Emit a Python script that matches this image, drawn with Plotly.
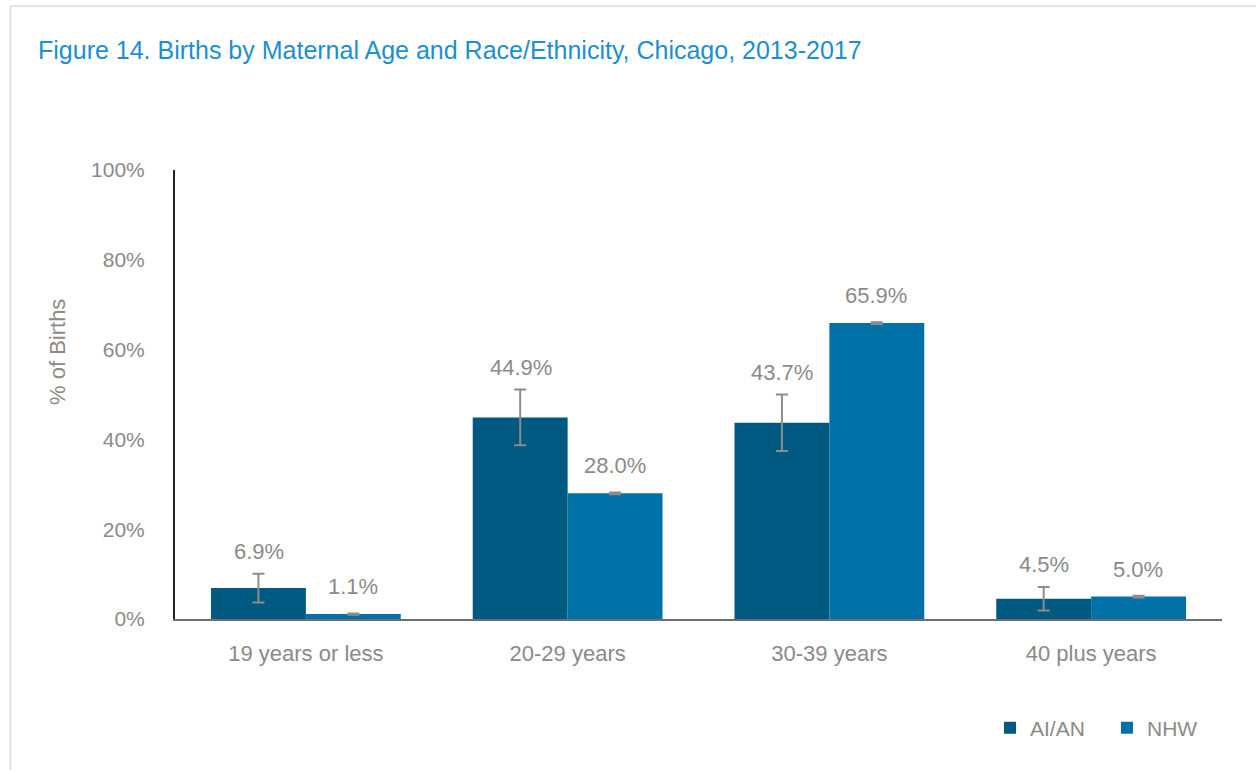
import plotly.graph_objects as go

categories = ["19 years or less", "20-29 years", "30-39 years", "40 plus years"]
aian = [6.9, 44.9, 43.7, 4.5]
aian_err = [3.2, 6.2, 6.3, 2.6]
nhw = [1.1, 28.0, 65.9, 5.0]
nhw_err = [0.15, 0.2, 0.2, 0.2]
y_ticks = [0, 20, 40, 60, 80, 100]

C_AIAN = "#005980"
C_NHW = "#0072a7"
GREY = "#8a8a8a"
FONT = "Liberation Sans"

W, H = 1256, 770
ML, MR, MT, MB = 175, 34, 170, 151
PW, PH = W - ML - MR, H - MT - MB


def px_x(x):
    return (x - ML) / PW


def px_y(y):
    return (H - MB - y) / PH


fig = go.Figure()
for name, vals, errs, col in [("AI/AN", aian, aian_err, C_AIAN), ("NHW", nhw, nhw_err, C_NHW)]:
    fig.add_trace(go.Bar(
        x=categories, y=vals, name=name, marker=dict(color=col, line=dict(width=0)),
        error_y=dict(type="data", array=errs, visible=True, color="#8c8c8c", thickness=2, width=6),
    ))

# data labels
for off, vals, errs, shift in [(-0.18, aian, aian_err, 8), (0.18, nhw, nhw_err, 12)]:
    for i, (v, e) in enumerate(zip(vals, errs)):
        fig.add_annotation(x=i + off, y=v + e, text=f"{v:.1f}%", showarrow=False,
                           yanchor="bottom", yshift=shift, xref="x", yref="y",
                           font=dict(family=FONT, size=22, color=GREY))

fig.update_layout(
    width=W, height=H,
    paper_bgcolor="white", plot_bgcolor="white",
    margin=dict(l=ML, r=MR, t=MT, b=MB),
    barmode="group", bargap=0.275, bargroupgap=0,
    font=dict(family=FONT, size=21, color=GREY),
    title=dict(text="Figure 14. Births by Maternal Age and Race/Ethnicity, Chicago, 2013-2017",
               x=38 / W, xanchor="left", y=1 - 50 / H, yanchor="middle",
               font=dict(family=FONT, size=25, color="#1b8fd0")),
    showlegend=True,
    legend=dict(orientation="h", x=px_x(1003 - 13), xanchor="left", y=px_y(728), yanchor="middle",
                font=dict(family=FONT, size=21, color=GREY), traceorder="normal",
                itemwidth=30, entrywidth=72),
    xaxis=dict(showline=True, linecolor="#6e6e6e", linewidth=2, ticks="", showgrid=False,
               tickfont=dict(family=FONT, size=22, color=GREY), ticklabelstandoff=14),
    yaxis=dict(range=[0, 100], tickvals=y_ticks, ticktext=[f"{t}%" for t in y_ticks],
               showline=True, linecolor="#222222", linewidth=2, showgrid=False, zeroline=False,
               ticks="", ticklabelstandoff=24,
               tickfont=dict(family=FONT, size=21, color=GREY)),
)

fig.add_annotation(text="% of Births", x=px_x(57), y=px_y(352), xref="paper", yref="paper",
                   xanchor="center", yanchor="middle", showarrow=False,
                   textangle=-90, font=dict(family=FONT, size=22, color=GREY))

# light grey frame
fig.add_shape(type="line", xref="paper", yref="paper",
              x0=px_x(10.5), x1=px_x(W), y0=px_y(6), y1=px_y(6),
              line=dict(color="#e3e3e3", width=2))
fig.add_shape(type="line", xref="paper", yref="paper",
              x0=px_x(10.5), x1=px_x(10.5), y0=px_y(6), y1=px_y(H),
              line=dict(color="#e3e3e3", width=2))

fig.write_html("out.html", config={"displayModeBar": False},
               post_script="document.body.style.margin='0px';")
